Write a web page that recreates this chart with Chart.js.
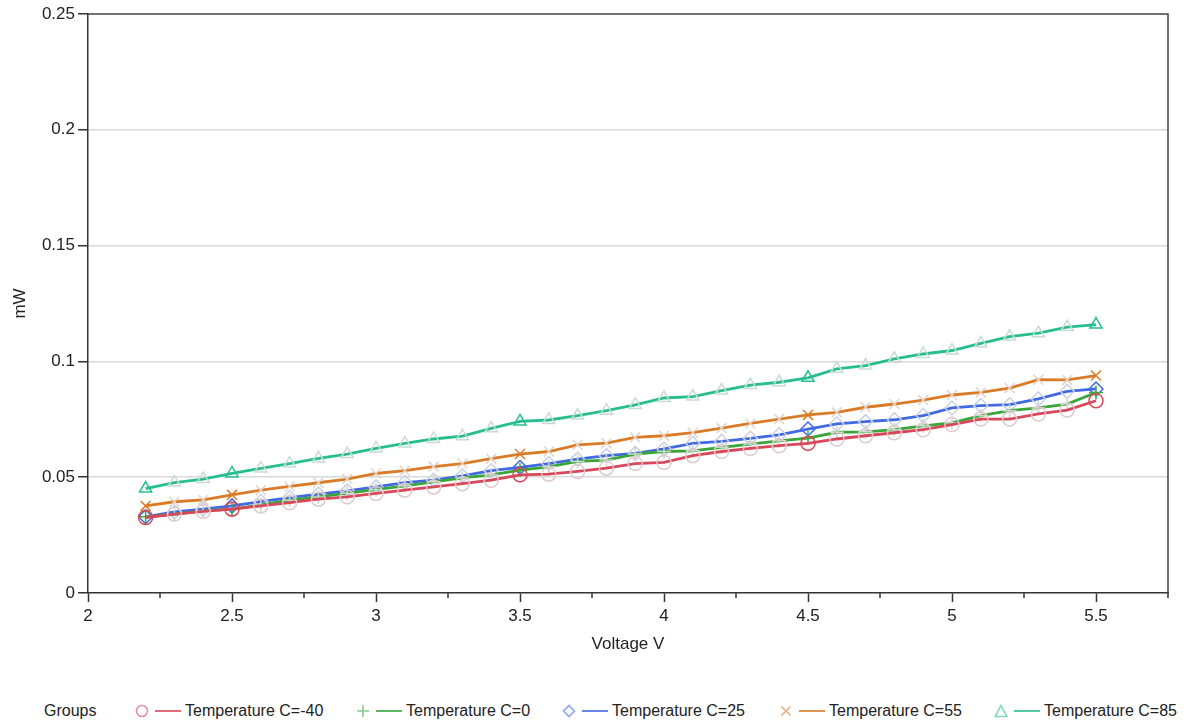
<!DOCTYPE html>
<html>
<head>
<meta charset="utf-8">
<script src="https://cdn.jsdelivr.net/npm/chart.js@4"></script>
<style>
  body { margin: 0; background: #fff; font-family: "Liberation Sans", Arial, sans-serif; }
  #wrap { position: relative; width: 1186px; height: 690px; }
  #legend { position: absolute; top: 700px; left: 0; width: 1186px; height: 22px; font-size: 16px; color: #222; }
  .item { position: absolute; top: 0; height: 22px; display: flex; align-items: center; white-space: nowrap; }
  .item svg { display: block; }
</style>
</head>
<body>
<div id="wrap"><canvas id="chart" width="1186" height="690"></canvas></div>
<div id="legend"></div>
<script>
const voltage = [2.2, 2.3, 2.4, 2.5, 2.6, 2.7, 2.8, 2.9, 3.0, 3.1, 3.2, 3.3,
  3.4, 3.5, 3.6, 3.7, 3.8, 3.9, 4.0, 4.1, 4.2, 4.3, 4.4, 4.5, 4.6,
  4.7, 4.8, 4.9, 5.0, 5.1, 5.2, 5.3, 5.4, 5.5];
const keyVoltages = [2.2, 2.5, 3.5, 4.5, 5.5];

const tempM40 = [0.0326, 0.0341, 0.0352, 0.0362, 0.0376, 0.0390, 0.0405, 0.0415, 0.0430, 0.0444, 0.0458, 0.0472,
  0.0487, 0.0510, 0.0513, 0.0525, 0.0539, 0.0559, 0.0564, 0.0593, 0.0611, 0.0624, 0.0636, 0.0646, 0.0665,
  0.0679, 0.0692, 0.0705, 0.0727, 0.0751, 0.0751, 0.0773, 0.0790, 0.0830];
const temp0 = [0.0329, 0.0340, 0.0355, 0.0362, 0.0380, 0.0401, 0.0415, 0.0431, 0.0446, 0.0463, 0.0480, 0.0497,
  0.0510, 0.0531, 0.0545, 0.0568, 0.0574, 0.0600, 0.0611, 0.0614, 0.0629, 0.0643, 0.0657, 0.0669, 0.0694,
  0.0696, 0.0705, 0.0722, 0.0735, 0.0766, 0.0787, 0.0799, 0.0816, 0.0866];
const temp25 = [0.0329, 0.0350, 0.0362, 0.0376, 0.0395, 0.0412, 0.0427, 0.0441, 0.0458, 0.0477, 0.0487, 0.0506,
  0.0528, 0.0542, 0.0559, 0.0578, 0.0593, 0.0603, 0.0622, 0.0646, 0.0655, 0.0668, 0.0683, 0.0708, 0.0730,
  0.0740, 0.0748, 0.0766, 0.0799, 0.0809, 0.0813, 0.0838, 0.0871, 0.0881];
const temp55 = [0.0376, 0.0394, 0.0402, 0.0424, 0.0444, 0.0460, 0.0476, 0.0492, 0.0516, 0.0528, 0.0546, 0.0559,
  0.0580, 0.0600, 0.0611, 0.0640, 0.0647, 0.0672, 0.0679, 0.0692, 0.0712, 0.0732, 0.0751, 0.0769, 0.0780,
  0.0802, 0.0816, 0.0833, 0.0855, 0.0866, 0.0885, 0.0921, 0.0920, 0.0939];
const temp85 = [0.0451, 0.0477, 0.0492, 0.0516, 0.0538, 0.0559, 0.0581, 0.0600, 0.0624, 0.0646, 0.0665, 0.0677,
  0.0711, 0.0741, 0.0747, 0.0766, 0.0787, 0.0812, 0.0842, 0.0848, 0.0874, 0.0898, 0.0910, 0.0929, 0.0968,
  0.0982, 0.1011, 0.1032, 0.1047, 0.1078, 0.1107, 0.1122, 0.1148, 0.1159];

const seriesLabels = ['Temperature C=-40', 'Temperature C=0', 'Temperature C=25', 'Temperature C=55', 'Temperature C=85'];
const seriesValues = [tempM40, temp0, temp25, temp55, temp85];
const xTickLabels = ['2', '2.5', '3', '3.5', '4', '4.5', '5', '5.5'];
const yTickLabels = ['0', '0.05', '0.1', '0.15', '0.2', '0.25'];

const colors = ['#d9485a', '#3aa63a', '#4169e1', '#d97b27', '#27be8e'];
const paleColors = ['#ddcbce', '#cbd8cb', '#cbd1e2', '#e2d3c6', '#c6dcd3'];
const markers = ['circle', 'cross', 'rectRot', 'crossRot', 'triangle'];

const isKey = v => keyVoltages.some(k => Math.abs(k - v) < 1e-6);
const isMajorX = v => Math.abs(v * 2 - Math.round(v * 2)) < 1e-6;

const datasets = seriesValues.map((vals, i) => ({
  label: seriesLabels[i],
  data: vals.map((y, j) => ({ x: voltage[j], y })),
  borderColor: colors[i],
  borderWidth: 2.8,
  pointStyle: markers[i],
  pointRadius: 7,
  pointHoverRadius: 7,
  pointBorderWidth: 1.5,
  pointBackgroundColor: 'rgba(0,0,0,0)',
  pointBorderColor: ctx => isKey(voltage[ctx.dataIndex]) ? colors[i] : paleColors[i],
  tension: 0
}));

const frame = {
  id: 'frame',
  afterDraw(chart) {
    const { ctx, chartArea: a, scales: { x } } = chart;
    ctx.save();
    ctx.strokeStyle = '#444';
    ctx.lineWidth = 1.5;
    ctx.beginPath();
    ctx.moveTo(a.left, a.top);
    ctx.lineTo(a.right, a.top);
    ctx.lineTo(a.right, a.bottom);
    ctx.stroke();
    // minor ticks on x
    ctx.strokeStyle = '#333';
    x.ticks.forEach(t => {
      if (isMajorX(t.value)) return;
      const px = x.getPixelForValue(t.value);
      ctx.beginPath();
      ctx.moveTo(px, a.bottom);
      ctx.lineTo(px, a.bottom + 5);
      ctx.stroke();
    });
    ctx.restore();
  }
};

new Chart(document.getElementById('chart'), {
  type: 'line',
  data: { datasets },
  options: {
    responsive: false,
    animation: false,
    layout: { padding: { left: 0, right: 18, top: 14, bottom: 30 } },
    plugins: { legend: { display: false }, tooltip: { enabled: false } },
    scales: {
      x: {
        type: 'linear',
        min: 2,
        max: 5.75,
        afterFit: s => { s.height = 67; },
        ticks: {
          stepSize: 0.25,
          autoSkip: false,
          maxRotation: 0,
          padding: 4,
          color: '#222',
          font: { family: '"Liberation Sans", Arial, sans-serif', size: 17 },
          callback: v => isMajorX(v) ? xTickLabels[Math.round((v - 2) * 2)] : ''
        },
        grid: {
          drawOnChartArea: false,
          tickLength: 9,
          tickWidth: 1.5,
          tickColor: ctx => (ctx.tick && isMajorX(ctx.tick.value)) ? '#333' : 'rgba(0,0,0,0)'
        },
        border: { color: '#333', width: 1.5 },
        title: {
          display: true,
          text: 'Voltage V',
          color: '#222',
          font: { family: '"Liberation Sans", Arial, sans-serif', size: 17 },
          padding: { top: 0, bottom: 5 }
        }
      },
      y: {
        min: 0,
        max: 0.25,
        afterFit: s => { s.width = 88; },
        ticks: {
          stepSize: 0.05,
          padding: 3,
          color: '#222',
          font: { family: '"Liberation Sans", Arial, sans-serif', size: 17 },
          callback: (v, i) => yTickLabels[i]
        },
        grid: {
          color: ctx => (ctx.tick && (ctx.tick.value === 0 || Math.abs(ctx.tick.value - 0.25) < 1e-9)) ? 'rgba(0,0,0,0)' : '#d9d9d9',
          lineWidth: 1.5,
          tickLength: 10,
          tickWidth: 1.5,
          tickColor: '#333'
        },
        border: { color: '#333', width: 1.5 },
        title: {
          display: true,
          text: 'mW',
          color: '#222',
          font: { family: '"Liberation Sans", Arial, sans-serif', size: 17 },
          padding: { top: 10, bottom: 0 }
        }
      }
    }
  },
  plugins: [frame]
});

// legend
const markerSvg = (m, c) => {
  const s = 'fill="none" stroke="' + c + '" stroke-width="1.6"';
  if (m === 'circle') return '<circle cx="7" cy="7" r="5.5" ' + s + '/>';
  if (m === 'cross') return '<path d="M7 1V13M1 7H13" ' + s + '/>';
  if (m === 'rectRot') return '<path d="M7 1.5L12.5 7L7 12.5L1.5 7Z" ' + s + '/>';
  if (m === 'crossRot') return '<path d="M2.5 2.5L11.5 11.5M11.5 2.5L2.5 11.5" ' + s + '/>';
  return '<path d="M7 1.5L12.8 12.5H1.2Z" ' + s + '/>';
};
const legend = document.getElementById('legend');
const markerCenters = [142, 363, 569, 786, 1001];
let html = '<div class="item" style="left:44px">Groups</div>';
seriesLabels.forEach((lab, i) => {
  html += '<div class="item" style="left:' + (markerCenters[i] - 7) + 'px">' +
    '<svg width="14" height="14">' + markerSvg(markers[i], colors[i] + '99') + '</svg>' +
    '<svg width="30" height="4" style="margin-left:4px"><line x1="2" y1="2" x2="28" y2="2" stroke="' + colors[i] + '" stroke-width="1.6"/></svg>' +
    '<span style="margin-left:2px">' + lab + '</span></div>';
});
legend.innerHTML = html;
</script>
</body>
</html>
